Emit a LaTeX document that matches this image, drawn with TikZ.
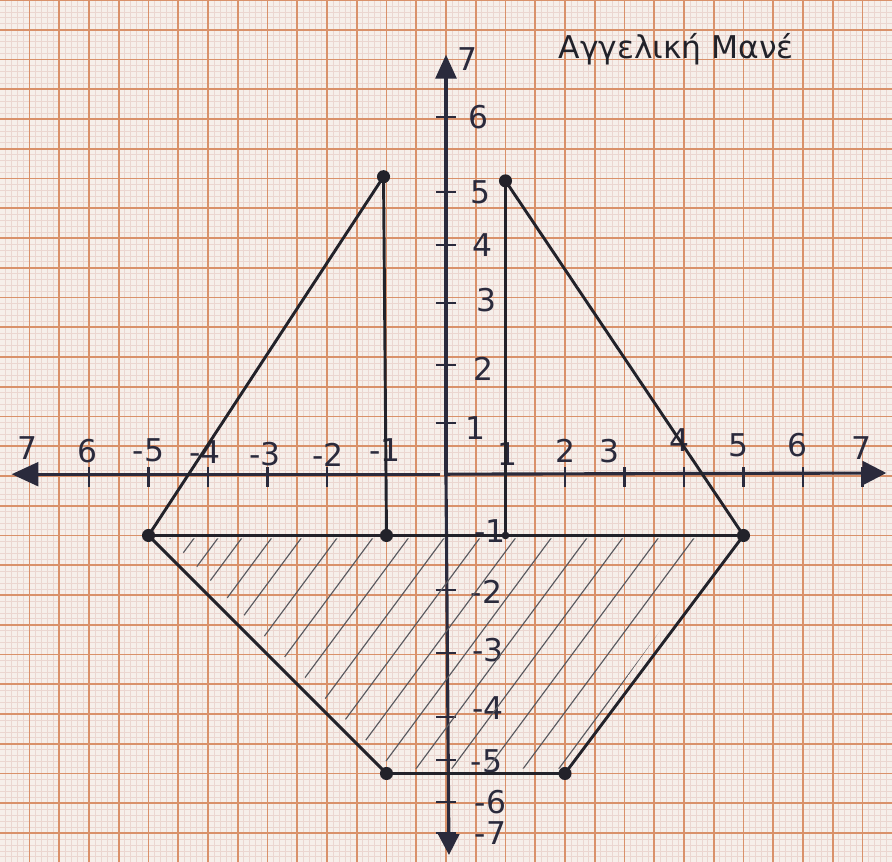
\documentclass[tikz,border=0pt]{standalone}
\usepackage{fontspec}
\setmainfont{DejaVu Sans}
\usetikzlibrary{arrows.meta,calc}
\definecolor{paper}{HTML}{F6EFEA}
\definecolor{finegrid}{HTML}{EBD6D0}
\definecolor{majgrid}{HTML}{D9916A}
\definecolor{pen}{HTML}{22222A}
\definecolor{axispen}{HTML}{2A2A3C}
\tikzset{
  shape line/.style={draw=pen, line width=1.4pt},
  axis line/.style={draw=axispen, line width=1.5pt},
  tickmark/.style={draw=axispen, line width=1pt},
  hatchline/.style={draw=pen!75, line width=0.55pt},
  dotpt/.style={circle, fill=pen, inner sep=0pt, minimum size=2.2mm},
  smalldot/.style={circle, fill=pen, inner sep=0pt, minimum size=1.3mm},
  lab/.style={text=axispen, font=\fontsize{15}{17}\selectfont, inner sep=0pt},
}
\begin{document}
\begin{tikzpicture}[x=1cm,y=1cm]
\useasboundingbox (-7.496,-6.487) rectangle (7.496,8.0);
\fill[paper] (-7.496,-6.487) rectangle (7.496,8.0);
\draw[finegrid, line width=0.3pt, step=0.1] (-7.496,-6.487) grid (7.496,8.0);
\draw[majgrid, line width=0.75pt, step=0.5] (-7.496,-6.487) grid (7.496,8.0);

% axes
\coordinate (xl) at (-7.3,0.03);
\coordinate (xr) at (7.4,0.05);
\coordinate (yt) at (0,7.08);
\coordinate (yb) at (0.05,-6.37);
\draw[axis line, -{Triangle[length=4.5mm,width=4mm]}] (-0.1,0.03) -- (xl);
\draw[axis line, -{Triangle[length=4mm,width=4mm]}] (0,0.03) -- (xr);
\draw[axis line, -{Triangle[length=4mm,width=3.5mm]}] (0,0) -- (yt);
\draw[axis line, -{Triangle[length=3.5mm,width=3.5mm]}] (0,0) -- (yb);

% x ticks
\foreach \t in {-6,-5,-4,-3,-2,2,3,4,5,6,7}
  \draw[tickmark] (\t,-0.18) -- (\t,0.15);
% y ticks
\foreach \t in {6.03,4.77,3.88,2.9,1.87,0.89,-1.92,-2.97,-4.05,-4.77,-5.48,-6.0}
  \draw[tickmark] (-0.17,\t) -- (0.17,\t);

% x labels
\node[lab] (lxm7) at (-7.03,0.47) {7};
\node[lab] (lxm6) at (-6.03,0.42) {6};
\node[lab] (lxm5) at (-5.0,0.44) {-5};
\node[lab] (lxm4) at (-4.05,0.40) {-4};
\node[lab] (lxm3) at (-3.04,0.36) {-3};
\node[lab] (lxm2) at (-1.98,0.36) {-2};
\node[lab] (lxm1) at (-1.03,0.44) {-1};
\node[lab] (lx1) at (1.04,0.36) {1};
\node[lab] (lx2) at (2.0,0.42) {2};
\node[lab] (lx3) at (2.74,0.42) {3};
\node[lab] (lx4) at (3.93,0.60) {4};
\node[lab] (lx5) at (4.91,0.52) {5};
\node[lab] (lx6) at (5.9,0.52) {6};
\node[lab] (lx7) at (6.99,0.47) {7};

% y labels
\node[lab] (ly7) at (0.36,7.0) {7};
\node[lab] (ly6) at (0.55,6.03) {6};
\node[lab] (ly5) at (0.58,4.77) {5};
\node[lab] (ly4) at (0.62,3.88) {4};
\node[lab] (ly3) at (0.68,2.96) {3};
\node[lab] (ly2) at (0.63,1.8) {2};
\node[lab] (ly1) at (0.5,0.8) {1};
\node[lab] (lym1) at (0.74,-0.93) {-1};
\node[lab] (lym2) at (0.68,-1.95) {-2};
\node[lab] (lym3) at (0.7,-2.92) {-3};
\node[lab] (lym4) at (0.7,-3.9) {-4};
\node[lab] (lym5) at (0.68,-4.8) {-5};
\node[lab] (lym6) at (0.75,-5.48) {-6};
\node[lab] (lym7) at (0.75,-6.0) {-7};

% title
\node[text=pen, font=\fontsize{15}{17}\selectfont, inner sep=0pt] (title) at (3.87,7.18) {Αγγελική Μανέ};

% points
\coordinate (A) at (-5,-1);
\coordinate (B) at (-1.05,5.03);
\coordinate (C) at (-1,-1);
\coordinate (D) at (1,4.96);
\coordinate (E) at (1,-1);
\coordinate (F) at (5,-1);
\coordinate (G) at (-1,-5);
\coordinate (H) at (2,-5);

% hatching
\begin{scope}
\clip ($(A)+(0.35,-0.05)$) -- ($(F)+(-0.3,-0.05)$) -- ($(H)+(-0.05,0.08)$) -- ($(G)+(0.12,0.08)$) -- cycle;
\foreach \c in {-4.6,-4.2,-3.8,-3.4,-2.9,-2.4,-1.8,-1.2,-0.6,0,0.6,1.2,1.8,2.4,3.0,3.6,4.2,4.8}
  \draw[hatchline] (\c-4.5,-7.075) -- (\c+0.5,-0.325);
\end{scope}

% figure lines
\draw[shape line] (A) -- (B) -- (C);
\draw[shape line] (E) -- (D) -- (F);
\draw[shape line] (A) -- (F);
\draw[shape line] (A) -- (G) -- (H) -- (F);

% dots
\node[dotpt] (nA) at (A) {};
\node[dotpt] (nB) at (B) {};
\node[dotpt] (nC) at (C) {};
\node[dotpt] (nD) at (D) {};
\node[smalldot] (nE) at (E) {};
\node[dotpt] (nF) at (F) {};
\node[dotpt] (nG) at (G) {};
\node[dotpt] (nH) at (H) {};
\end{tikzpicture}
\end{document}
